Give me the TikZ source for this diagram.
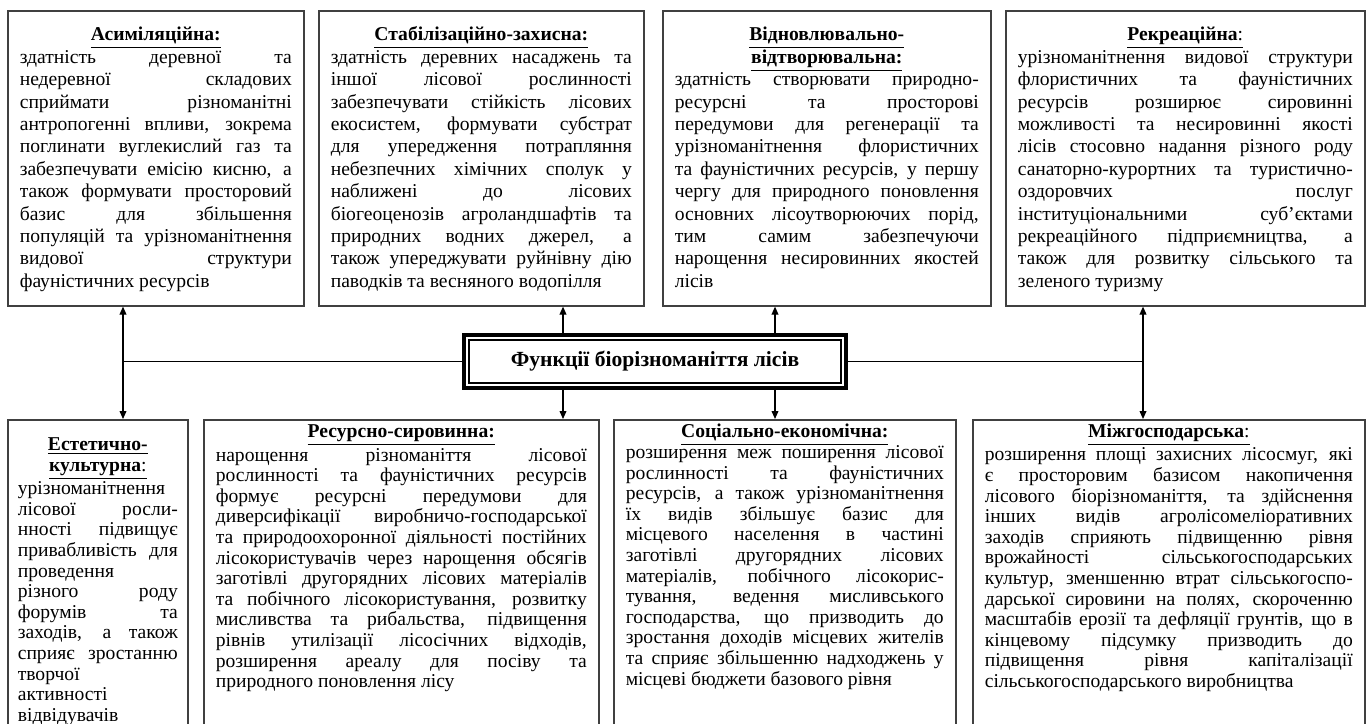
\documentclass[tikz,border=0pt]{standalone}
\usepackage{fontspec}
\setmainfont{Liberation Serif}
\usetikzlibrary{arrows.meta,fit}
\tikzset {>={Triangle[length=4pt,width=3.4pt]}}
\newcommand*{\lbr}{\linebreak}
\newcommand*{\ttl}[1]{\underline{\textbf{#1}}}
\hyphenpenalty=10000
\exhyphenpenalty=10000
\tolerance=10000

\begin{document}
\begin{tikzpicture}[x=0.5pt,y=-0.5pt,
  fnbox/.style={draw=black!75,line width=0.8pt,anchor=north west,align=justify,inner xsep=6pt,inner ysep=0pt},
  toprow/.style={fnbox,font=\fontsize{9.8}{11.2}\selectfont,text height=15pt,text depth=132.5pt},
  botrow/.style={fnbox,font=\fontsize{9.8}{10.3}\selectfont,text height=9pt,text depth=151.5pt},
  link/.style={line width=0.6pt}]
\useasboundingbox (0,0) rectangle (1370,723);
\clip (0,0) rectangle (1370,723);
% upper row
\node[toprow,text width=136pt] (asym) at (7,10) {{\centering\ttl{Асиміляційна:}\par}
  здатність деревної та\lbr недеревної складових\lbr сприймати різноманітні\lbr
  антропогенні впливи, зокрема\lbr поглинати вуглекислий газ та\lbr
  забезпечувати емісію кисню, а\lbr також формувати просторовий\lbr
  базис для збільшення\lbr популяцій та урізноманітнення\lbr видової структури\lbr
  фауністичних ресурсів};
\node[toprow,text width=150.5pt] (stab) at (318,10) {{\centering\ttl{Стабілізаційно-захисна:}\par}
  здатність деревних насаджень та\lbr іншої лісової рослинності\lbr
  забезпечувати стійкість лісових\lbr екосистем, формувати субстрат\lbr
  для упередження потрапляння\lbr небезпечних хімічних сполук у\lbr
  наближені до лісових\lbr біогеоценозів агроландшафтів та\lbr
  природних водних джерел, а\lbr також упереджувати руйнівну дію\lbr
  паводків та весняного водопілля};
\node[toprow,text width=152pt] (renw) at (662,10) {{\centering\ttl{Відновлювально-}\\\ttl{відтворювальна:}\par}
  здатність створювати природно-\lbr ресурсні та просторові\lbr
  передумови для регенерації та\lbr урізноманітнення флористичних\lbr
  та фауністичних ресурсів, у першу\lbr чергу для природного поновлення\lbr
  основних лісоутворюючих порід,\lbr тим самим забезпечуючи\lbr
  нарощення несировинних якостей\lbr лісів};
\node[toprow,text width=167.5pt] (recr) at (1005,10) {{\centering\underline{\textbf{Рекреаційна}:}\par}
  урізноманітнення видової структури\lbr флористичних та фауністичних\lbr
  ресурсів розширює сировинні\lbr можливості та несировинні якості\lbr
  лісів стосовно надання різного роду\lbr санаторно-курортних та туристично-\lbr
  оздоровчих послуг\lbr інституціональними суб’єктами\lbr
  рекреаційного підприємництва, а\lbr також для розвитку сільського та\lbr
  зеленого туризму};
% centre
\node[draw,line width=0.6pt,minimum width=186pt,minimum height=21.5pt,inner sep=0pt,
  font=\fontsize{10.8}{13}\selectfont\bfseries] (core) at (655,361.5) {Функції біорізноманіття лісів};
\node[draw,line width=2.2pt,inner sep=2.3pt,fit=(core)] (coreframe) {};
% lower row
\node[botrow,text width=80pt,inner xsep=5pt,text height=15.5pt,text depth=145pt] (aest) at (7,419) {{\centering\ttl{Естетично-}\\\underline{\textbf{культурна}:}\par}
  урізноманітнення\lbr лісової росли-\lbr нності підвищує\lbr привабливість для\lbr
  проведення\lbr різного роду\lbr форумів та\lbr заходів, а також\lbr
  сприяє зростанню\lbr творчої\lbr активності\lbr відвідувачів};
\node[botrow,text width=185.5pt] (resr) at (203,419) {{\centering\ttl{Ресурсно-сировинна:}\par}
  нарощення різноманіття лісової\lbr рослинності та фауністичних ресурсів\lbr
  формує ресурсні передумови для\lbr диверсифікації виробничо-господарської\lbr
  та природоохоронної діяльності постійних\lbr лісокористувачів через нарощення обсягів\lbr
  заготівлі другорядних лісових матеріалів\lbr та побічного лісокористування, розвитку\lbr
  мисливства та рибальства, підвищення\lbr рівнів утилізації лісосічних відходів,\lbr
  розширення ареалу для посіву та\lbr природного поновлення лісу};
\node[botrow,text width=159pt] (soc) at (613,419) {{\centering\ttl{Соціально-економічна:}\par}
  розширення меж поширення лісової\lbr рослинності та фауністичних\lbr
  ресурсів, а також урізноманітнення\lbr їх видів збільшує базис для\lbr
  місцевого населення в частині\lbr заготівлі другорядних лісових\lbr
  матеріалів, побічного лісокорис-\lbr тування, ведення мисливського\lbr
  господарства, що призводить до\lbr зростання доходів місцевих жителів\lbr
  та сприяє збільшенню надходжень у\lbr місцеві бюджети базового рівня};
\node[botrow,text width=184pt] (intr) at (972,419) {{\centering\underline{\textbf{Міжгосподарська}:}\par}
  розширення площі захисних лісосмуг, які\lbr є просторовим базисом накопичення\lbr
  лісового біорізноманіття, та здійснення\lbr інших видів агролісомеліоративних\lbr
  заходів сприяють підвищенню рівня\lbr врожайності сільськогосподарських\lbr
  культур, зменшенню втрат сільськогоспо-\lbr дарської сировини на полях, скороченню\lbr
  масштабів ерозії та дефляції грунтів, що в\lbr кінцевому підсумку призводить до\lbr
  підвищення рівня капіталізації\lbr сільськогосподарського виробництва};
% connectors
\coordinate (lhub) at (123,361.5);
\coordinate (rhub) at (1143,361.5);
\coordinate (lmid) at (563,361.5);
\coordinate (rmid) at (775,361.5);
\draw[link,<->] (asym.south -| lhub) -- (aest.north -| lhub);
\draw[link] (lhub) -- (coreframe.west);
\draw[link,<->] (recr.south -| rhub) -- (intr.north -| rhub);
\draw[link] (coreframe.east) -- (rhub);
\draw[link,->] (coreframe.north -| lmid) -- (stab.south -| lmid);
\draw[link,->] (coreframe.north -| rmid) -- (renw.south -| rmid);
\draw[link,->] (coreframe.south -| lmid) -- (resr.north -| lmid);
\draw[link,->] (coreframe.south -| rmid) -- (soc.north -| rmid);
\end{tikzpicture}
\end{document}
